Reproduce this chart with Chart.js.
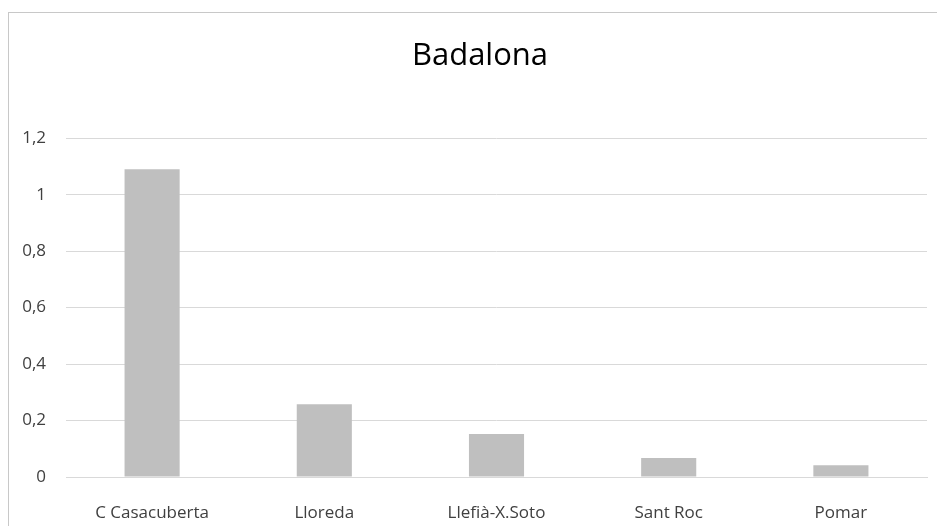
<!DOCTYPE html>
<html lang="ca">
<head>
    <meta charset="UTF-8">
    <title>Badalona</title>
    <script src="https://cdn.jsdelivr.net/npm/chart.js"></script>
    <style>
        html, body { margin: 0; padding: 0; background: #fff; overflow: hidden; }
        #marc {
            position: absolute; left: 8px; top: 12px;
            width: 1000px; height: 600px;
            border: 1px solid #c8c8c8;
        }
        #grafic { position: absolute; left: 0; top: 0; }
    </style>
</head>
<body>
    <div id="marc"></div>
    <canvas id="grafic" width="937" height="526"></canvas>

    <script>
        // Dades del gràfic
        const barris = ['C Casacuberta', 'Lloreda', 'Llefià-X.Soto', 'Sant Roc', 'Pomar'];
        const valors = [1.09, 0.258, 0.152, 0.067, 0.042];
        const etiquetesY = ['0', '0,2', '0,4', '0,6', '0,8', '1', '1,2'];

        // el títol de l'Excel queda centrat sobre el marc, no sobre el canvas
        const centrarTitol = {
            id: 'centrarTitol',
            afterLayout: function (chart) {
                if (chart.titleBlock) chart.titleBlock.left = 33;
            }
        };

        const ctx = document.getElementById('grafic').getContext('2d');

        new Chart(ctx, {
            type: 'bar',
            data: {
                labels: barris,
                datasets: [{
                    data: valors,
                    backgroundColor: '#bfbfbf',
                    borderWidth: 0,
                    barPercentage: 0.32,
                    categoryPercentage: 1
                }]
            },
            options: {
                responsive: false,
                animation: false,
                layout: {
                    padding: { left: 0, right: 10, top: 0, bottom: 0 }
                },
                plugins: {
                    legend: { display: false },
                    tooltip: { enabled: false },
                    title: {
                        display: true,
                        text: 'Badalona',
                        color: '#000',
                        font: { family: 'Open Sans', size: 31, weight: 'normal' },
                        padding: { top: 38, bottom: 63 }
                    }
                },
                scales: {
                    x: {
                        grid: { display: false },
                        border: { display: true, color: '#d9d9d9', width: 1 },
                        ticks: {
                            color: '#404040',
                            font: { family: 'Open Sans', size: 17 },
                            padding: 18,
                            maxRotation: 0
                        },
                        afterFit: function (scale) { scale.height = 49; }
                    },
                    y: {
                        min: 0,
                        max: 1.2,
                        border: { display: false },
                        grid: { color: '#d9d9d9', lineWidth: 1, drawTicks: false },
                        ticks: {
                            stepSize: 0.2,
                            color: '#404040',
                            font: { family: 'Open Sans', size: 17 },
                            padding: 20,
                            callback: function (value, index) { return etiquetesY[index]; }
                        },
                        afterFit: function (scale) { scale.width = 66; }
                    }
                }
            },
            plugins: [centrarTitol]
        });
    </script>
</body>
</html>
